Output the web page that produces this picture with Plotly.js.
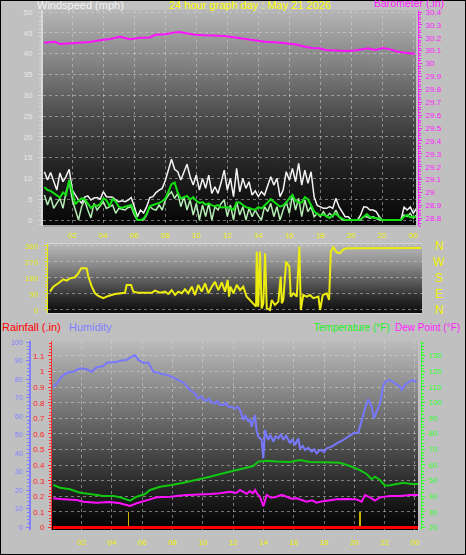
<!DOCTYPE html>
<html><head><meta charset="utf-8">
<script src="https://cdn.plot.ly/plotly-3.0.1.min.js"></script>
<style>html,body{margin:0;padding:0;background:#c0c0c0;overflow:hidden}#chart{width:466px;height:555px}</style>
</head><body><div id="chart"></div>
<script>
// ---------- DATA ----------
const hourTicks = [2,4,6,8,10,12,14,16,18,20,22,24];
const hourTickText = ['02','04','06','08','10','12','14','16','18','20','22','00'];

// Wind (mph), one reading every 0.2 h starting at 0.2 h
const windStepHours = 0.2;
const windGust = [11.6,9.6,11.4,9.2,7.2,11.3,9.2,10.5,12.2,7.2,
6.0,4.8,4.1,5.5,5.8,4.8,5.3,5.4,5.0,6.8,
5.6,5.6,5.5,4.8,4.4,4.6,4.4,4.8,5.4,3.2,
0.8,2.4,1.7,3.2,5.4,5.6,6.6,7.2,7.6,9.5,
12.2,14.6,12.2,11.6,9.6,11.6,13.4,10.4,8.4,10.8,
7.2,10.0,7.6,10.8,6.4,8.0,6.4,9.0,12.0,7.2,
10.0,5.6,12.4,6.8,10.0,7.6,9.2,6.0,7.0,5.6,
6.8,6.0,8.0,10.4,8.4,10.0,5.6,7.2,11.6,9.6,
12.4,9.2,13.6,8.4,12.0,8.8,11.6,5.5,3.5,3.2,
2.8,2.8,3.2,2.8,5.2,3.2,2.0,0.8,0.8,0,
0,0,1.2,3.2,3.1,2.4,2.4,2.0,0.8,0,
0,0,0,0,0,0,3.1,2.4,3.1,1.6,
2.8];
const windSpeed = [6.0,3.6,5.6,2.8,4.0,5.2,2.8,6.8,9.2,4.8,
2.4,0,3.2,4.8,2.4,0.5,4.0,2.4,3.4,4.4,
2.8,3.2,3.6,1.6,2.8,2.6,2.4,3.0,3.2,1.2,
0,0,0,1.2,3.2,2.6,2.4,3.6,2.4,4.8,
6.0,6.8,5.2,6.4,3.2,5.6,2.4,4.8,1.2,4.0,
0,3.6,0.8,4.0,0,3.2,2.4,4.0,4.8,0.8,
3.6,0,4.4,1.2,3.2,0,2.8,0.8,2.4,1.0,
0,3.2,2.0,4.0,0.8,3.2,0,2.4,4.4,1.6,
6.0,2.4,5.2,0.8,4.8,2.0,3.2,0.8,1.6,0.8,
2.0,0.8,1.6,0.8,2.4,0.8,0,0,0,0,
0,0,0,0.8,0.8,0.4,0.8,0.4,0,0,
0,0,0,0,0,0,1.2,0.8,1.6,0.4,
1.2];
const windAvg = [7.9,7.2,7.0,6.4,5.8,5.4,6.6,6.0,9.6,6.5,
3.8,4.6,5.2,5.0,4.0,2.9,3.6,3.4,3.8,5.2,
4.8,3.3,5.1,4.4,3.2,2.9,3.2,3.4,3.6,2.0,
0,0,0.3,1.5,3.3,3.6,3.8,4.1,4.5,5.2,
6.8,8.6,9.0,6.6,5.2,5.6,5.8,4.9,5.5,4.6,
4.1,4.3,3.7,4.0,3.5,3.3,3.6,3.0,3.1,3.1,
2.8,2.5,4.2,4.2,3.6,3.1,2.9,2.6,2.5,3.1,
2.8,3.4,4.2,5.0,4.4,3.7,3.2,3.5,4.2,5.2,
6.0,4.6,4.2,4.2,5.5,5.0,3.4,2.1,1.4,1.2,
1.3,0.9,0.5,1.2,1.5,0.8,0.3,0,0,0,
0,0,0.2,0.7,1.4,0.7,0.5,0.4,0.4,0,
0,0,0,0,0,0,0.8,1.2,0.6,0.8,
0.8];
const windTicks = [0,5,10,15,20,25,30,35,40,45,50];

// Barometer (in)
const baroHours = [0.17,0.88,1.21,1.85,2.5,3.14,3.79,4.43,5.08,5.72,6.37,7.01,7.34,7.98,8.63,8.95,9.27,9.92,10.56,11.21,11.85,12.5,13.14,13.79,14.43,15.08,15.72,16.37,17.01,17.46,17.98,18.3,18.95,19.59,20.24,20.69,21.08,21.53,22.05,22.5,23.01,23.46,24.1];
const baro = [30.162,30.169,30.151,30.157,30.165,30.167,30.18,30.19,30.208,30.188,30.2,30.203,30.224,30.227,30.242,30.245,30.237,30.224,30.219,30.214,30.214,30.203,30.193,30.18,30.169,30.165,30.157,30.149,30.13,30.12,30.118,30.105,30.102,30.097,30.102,30.11,30.118,30.105,30.12,30.11,30.092,30.084,30.076];
const baroTicks = [28.8,28.9,29,29.1,29.2,29.3,29.4,29.5,29.6,29.7,29.8,29.9,30,30.1,30.2,30.3,30.4];
const baroTickText = ['28.8','28.9','29','29.1','29.2','29.3','29.4','29.5','29.6','29.7','29.8','29.9','30','30.1','30.2','30.3','30.4'];

// Wind direction (degrees)
const dirHours = [0.00,0.21,0.54,0.86,1.08,1.29,1.62,1.83,2.01,2.15,2.37,2.48,2.70,2.91,3.12,3.45,3.77,4.20,4.85,4.96,5.24,5.39,5.71,6.58,6.79,7.12,7.44,7.65,7.87,8.09,8.30,8.52,8.73,8.95,9.17,9.38,9.59,9.81,10.03,10.24,10.46,10.67,10.89,11.11,11.32,11.49,11.58,11.67,11.86,12.08,12.29,12.50,12.72,12.94,13.15,13.33,13.37,13.47,13.58,13.69,13.80,13.91,14.02,14.23,14.34,14.55,14.77,14.92,14.99,15.09,15.27,15.35,15.48,15.57,15.74,15.96,16.13,16.22,16.38,16.60,16.82,17.03,17.36,17.47,17.64,17.90,18.05,18.16,18.33,18.55,18.76,18.97,19.19,24.00];
const dirDeg = [103,131,150,172,165,178,184,206,234,236,234,188,131,94,79,66,79,90,97,141,141,103,97,97,109,97,103,90,112,84,103,94,116,94,131,84,141,103,150,94,131,159,112,155,103,169,75,131,94,141,112,131,75,56,38,19,328,19,328,9,38,319,9,0,56,28,47,188,38,56,272,263,244,75,94,75,356,0,84,75,84,66,75,0,84,94,56,328,353,323,319,341,347,348];
const dirTicks = [0,90,180,270,360];
const compassLetters = ['N','E','S','W','N'];

// Humidity (%)
const humHours = [0.02,0.35,0.68,1.01,1.45,1.89,2.33,2.66,2.99,3.43,3.65,4.31,4.64,4.97,5.30,5.52,5.74,6.07,6.40,6.73,7.17,7.50,7.83,8.27,8.71,9.15,9.48,9.6,9.7,9.9,10.05,10.25,10.4,10.55,10.8,10.95,11.1,11.35,11.5,11.7,11.9,12.12,12.3,12.45,12.55,12.67,12.8,13.0,13.1,13.22,13.44,13.55,13.66,13.88,13.99,14.10,14.2,14.32,14.45,14.65,14.8,14.98,15.15,15.31,15.5,15.75,15.9,16.08,16.3,16.41,16.6,16.74,16.95,17.18,17.35,17.51,17.7,17.84,18.0,18.17,18.50,18.83,19.27,19.60,19.93,20.26,20.48,20.70,20.92,21.14,21.29,21.47,21.69,21.91,22.13,22.35,22.68,23.01,23.12,23.34,23.78,24.11];
const humidity = [75.1,77.8,81.4,83.6,84.1,85.9,85.4,84.1,86.5,87.2,89.0,89.4,90.1,90.4,92.2,93.0,90.4,89.0,89.0,84.1,83.2,82.7,81.8,80.0,78.2,74.2,72.4,70.5,69.7,70.8,68.9,68.4,69.5,67.6,67.0,68.2,66.4,66.1,67.2,65.0,65.2,64.3,65.1,63.4,61.0,58.0,60.5,57.1,58.6,54.4,60.7,52.0,49.0,47.2,37.3,52.6,49.5,47.2,50.0,46.3,49.2,48.1,50.4,47.2,49.5,45.4,47.6,44.5,48.1,42.7,43.9,41.8,43.0,40.9,42.2,40.0,41.5,41.8,40.6,42.7,43.6,45.4,47.2,49.0,50.8,51.1,58.0,64.3,69.2,65.2,58.9,62.5,67.0,76.9,79.2,79.6,77.8,76.0,74.2,76.9,79.6,78.7];
const humTicks = [0,10,20,30,40,50,60,70,80,90,100];

// Temperature and dew point (°F)
const tempHours = [0.13,0.57,1.23,1.89,2.55,2.99,3.43,4.09,4.53,5.19,5.63,6.18,6.51,7.17,7.83,8.71,9.59,10.47,11.35,12.23,12.67,13.33,13.66,14.21,14.87,15.75,16.41,17.07,18.17,19.05,19.71,20.37,20.81,21.14,21.36,21.69,22.02,22.35,22.79,23.23,23.78,24.2];
const temperature = [47.1,45.4,44.4,42.2,41.3,40.7,40.1,40.1,39.2,37.1,39.6,41.3,43.9,46.0,46.9,48.6,50.3,52.4,54.6,56.7,57.8,59.3,62.1,62.7,62.1,61.9,63.1,61.9,61.7,61.4,59.3,56.7,54.2,50.8,52.4,50.3,46.7,46.9,47.8,48.6,47.8,47.8];
const dewHours = [0.13,0.79,1.67,2.11,2.99,3.87,4.53,5.19,5.63,6.07,6.51,6.95,7.83,8.71,9.59,10.47,11.13,11.78,12.2,12.45,12.7,12.89,13.1,13.3,13.44,13.6,13.77,13.99,14.21,14.5,14.87,15.2,15.53,15.85,16.19,16.5,16.85,17.2,17.51,17.85,18.17,18.83,19.49,20.15,20.48,20.70,21.03,21.36,21.69,22.35,23.01,23.67,24.2];
const dewPoint = [38.6,37.9,37.5,36.4,35.8,36.2,35.4,33.7,35.4,36.9,37.9,39.2,39.6,40.5,40.7,41.3,41.8,42.8,42.0,43.9,42.6,41.3,43.2,41.8,43.9,41.2,39.6,33.5,40.7,38.9,39.6,40.8,39.6,38.3,38.6,37.4,36.4,37.3,35.8,36.6,37.1,37.9,38.1,37.9,36.4,40.7,39.2,37.1,39.2,40.1,40.1,40.7,40.7];
const tempTicks = [20,30,40,50,60,70,80,90,100,110,120,130];

// Rainfall (in)
const rainHours = [0,2,4,6,8,10,12,14,16,18,20,22,24.2];
const rainfall = [0,0,0,0,0,0,0,0,0,0,0,0,0];
const rainMarkHours = [5.08,20.37];
const rainMarkValues = [0.1,0.1];
const rainTicks = [0,0.1,0.2,0.3,0.4,0.5,0.6,0.7,0.8,0.9,1,1.1,1.2];
const rainTickText = ['0','0.1','0.2','0.3','0.4','0.5','0.6','0.7','0.8','0.9','1','1.1','1.2'];

// ---------- LAYOUT HELPERS ----------
const W = 466, H = 555;
const px = x => x / W, py = y => 1 - y / H;
const FONT = 'Liberation Sans, Arial, sans-serif';
const YEL = '#f0f000';
const GRID = 'rgba(215,215,215,0.5)';

function gradImg(stops) {
  const c = document.createElement('canvas');
  c.width = 4; c.height = 256;
  const g = c.getContext('2d');
  const lg = g.createLinearGradient(0, 0, 0, 256);
  stops.forEach(([t, v]) => lg.addColorStop(t, `rgb(${v},${v},${v})`));
  g.fillStyle = lg; g.fillRect(0, 0, 4, 256);
  return c.toDataURL();
}
function bgImage(x0, y0, x1, y1, stops) {
  return {source: gradImg(stops), xref: 'paper', yref: 'paper', x: px(x0), y: py(y0),
    sizex: (x1 - x0) / W, sizey: (y1 - y0) / H, sizing: 'stretch', xanchor: 'left', yanchor: 'top', layer: 'below'};
}

const windHours = windGust.map((_, i) => +((i + 1) * windStepHours).toFixed(2));

const traces = [
  {x: windHours, y: windGust, xaxis: 'x', yaxis: 'y', mode: 'lines', line: {color: '#f4f4f4', width: 1.5}, name: 'Gust'},
  {x: windHours, y: windSpeed, xaxis: 'x', yaxis: 'y', mode: 'lines', line: {color: '#b4ecb4', width: 1.5}, name: 'Speed'},
  {x: windHours, y: windAvg, xaxis: 'x', yaxis: 'y', mode: 'lines', line: {color: '#10e010', width: 2}, name: 'Average'},
  {x: baroHours, y: baro, xaxis: 'x', yaxis: 'y2', mode: 'lines', line: {color: '#ff10ff', width: 2}, name: 'Barometer'},
  {x: dirHours, y: dirDeg, xaxis: 'x2', yaxis: 'y3', mode: 'lines', line: {color: '#ecec10', width: 2}, name: 'Direction'},
  {x: rainMarkHours, y: rainMarkValues, xaxis: 'x3', yaxis: 'y4', type: 'bar', width: 0.09, marker: {color: '#c8b400', line: {width: 0}}, name: 'Rain rate'},
  {x: rainHours, y: rainfall, xaxis: 'x3', yaxis: 'y4', mode: 'lines', line: {color: '#ff0000', width: 3}, name: 'Rainfall'},
  {x: humHours, y: humidity, xaxis: 'x3', yaxis: 'y5', mode: 'lines', line: {color: '#7878ff', width: 2}, name: 'Humidity'},
  {x: tempHours, y: temperature, xaxis: 'x3', yaxis: 'y6', mode: 'lines', line: {color: '#10c810', width: 2}, name: 'Temperature'},
  {x: dewHours, y: dewPoint, xaxis: 'x3', yaxis: 'y6', mode: 'lines', line: {color: '#ff10ff', width: 2}, name: 'Dew Point'}
];

const tf = (c, s) => ({family: FONT, size: s || 8, color: c});
const xCommon = {tickvals: hourTicks, ticktext: hourTickText, tickfont: tf(YEL), showgrid: true, gridcolor: GRID, griddash: 'dot', gridwidth: 1, zeroline: false, ticks: '', fixedrange: true, ticklabelstandoff: 3};

const layout = {
  width: W, height: H, margin: {l: 0, r: 0, t: 0, b: 0, pad: 0},
  paper_bgcolor: '#c0c0c0', plot_bgcolor: 'rgba(0,0,0,0)', showlegend: false, bargap: 0,
  font: {family: FONT},
  xaxis: Object.assign({}, xCommon, {domain: [px(43), px(416)], range: [0.11, 24.17], anchor: 'y'}),
  yaxis: {domain: [py(226), py(10)], range: [-1.44, 50.48], tickvals: windTicks, tickfont: tf('#e8e8e8'),
    showgrid: true, gridcolor: GRID, griddash: 'dot', zeroline: false, showline: true, linecolor: '#d8d8d8', linewidth: 2,
    ticks: 'outside', ticklen: 3, tickcolor: '#d8d8d8', ticklabelstandoff: 4,
    minor: {tickmode: 'linear', tick0: 0, dtick: 1, ticks: 'outside', ticklen: 2, tickcolor: '#d8d8d8', showgrid: false}},
  yaxis2: {overlaying: 'y', side: 'right', anchor: 'free', position: px(418), range: [28.74, 30.4155],
    tickvals: baroTicks, ticktext: baroTickText, tickfont: tf('#ff20ff'), showgrid: false, zeroline: false,
    showline: true, linecolor: '#ff20ff', linewidth: 1, ticks: 'outside', ticklen: 3, tickcolor: '#ff20ff', ticklabelstandoff: 2,
    minor: {tickmode: 'linear', tick0: 28.8, dtick: 0.02, ticks: 'outside', ticklen: 2, tickcolor: '#ff20ff', showgrid: false}},
  xaxis2: {domain: [px(48), px(422)], range: [-0.13, 24.06], anchor: 'y3', showticklabels: false, showgrid: false,
    zeroline: false, showline: true, mirror: true, linecolor: '#d4d4d4', linewidth: 1, ticks: ''},
  yaxis3: {domain: [py(313), py(244)], range: [-17, 371], anchor: 'x2', tickvals: dirTicks, tickfont: tf('#e8e810'),
    showgrid: true, gridcolor: GRID, griddash: 'dot', zeroline: false, showline: true, linecolor: '#e8e810', linewidth: 1,
    ticks: 'outside', ticklen: 3, tickcolor: '#e8e810', ticklabelstandoff: 4,
    minor: {tickmode: 'linear', tick0: 0, dtick: 18, ticks: 'outside', ticklen: 2, tickcolor: '#e8e810', showgrid: false}},
  xaxis3: Object.assign({}, xCommon, {domain: [px(53), px(418)], range: [0.106, 24.2], anchor: 'y4', ticklabelstandoff: 6}),
  yaxis4: {domain: [py(530), py(341)], range: [-0.016, 1.1955], anchor: 'free', position: px(51),
    tickvals: rainTicks, ticktext: rainTickText, tickfont: tf('#ff2020'), showgrid: true, gridcolor: GRID, griddash: 'dot',
    zeroline: false, showline: true, linecolor: '#ff3030', linewidth: 1, ticks: 'outside', ticklen: 3, tickcolor: '#ff3030', ticklabelstandoff: 2,
    minor: {tickmode: 'linear', tick0: 0, dtick: 0.02, ticks: 'outside', ticklen: 2, tickcolor: '#ff3030', showgrid: false}},
  yaxis5: {overlaying: 'y4', side: 'left', anchor: 'free', position: px(30), range: [-1.46, 100.7],
    tickvals: humTicks, tickfont: tf('#8080ff', 7), showgrid: false, zeroline: false, showline: true, linecolor: '#8080ff', linewidth: 2,
    ticks: 'outside', ticklen: 3, tickcolor: '#8080ff', ticklabelstandoff: 2,
    minor: {tickmode: 'linear', tick0: 0, dtick: 2, ticks: 'outside', ticklen: 2, tickcolor: '#8080ff', showgrid: false}},
  yaxis6: {overlaying: 'y4', side: 'right', anchor: 'free', position: px(421), range: [18.27, 139.4],
    tickvals: tempTicks, tickfont: tf('#30ff30'), showgrid: false, zeroline: false, showline: true, linecolor: '#30ff30', linewidth: 1,
    ticks: 'outside', ticklen: 3, tickcolor: '#30ff30', ticklabelstandoff: 2,
    minor: {tickmode: 'linear', tick0: 20, dtick: 2, ticks: 'outside', ticklen: 2, tickcolor: '#30ff30', showgrid: false}},
  images: [
    bgImage(43, 10, 416, 226, [[0, 182], [0.25, 130], [0.5, 74], [0.75, 32], [1, 6]]),
    bgImage(48, 244, 422, 313, [[0, 184], [0.3, 140], [0.55, 90], [0.8, 40], [1, 12]]),
    bgImage(51, 341, 418, 530, [[0, 188], [0.3, 130], [0.55, 80], [0.8, 34], [1, 0]])
  ],
  shapes: [
    {type: 'rect', xref: 'paper', yref: 'paper', x0: 0, x1: 1, y0: 0, y1: 1, line: {color: '#000', width: 2}, fillcolor: 'rgba(0,0,0,0)'},
    {type: 'line', xref: 'paper', yref: 'paper', x0: px(43), x1: px(416), y0: py(226), y1: py(226), line: {color: '#a8a8a8', width: 2}}
  ],
  annotations: [
    {text: 'Windspeed (mph)', xref: 'paper', yref: 'paper', x: px(35), y: py(4.5), xanchor: 'left', yanchor: 'middle', showarrow: false, font: tf('#f4f4f4', 11)},
    {text: '24 hour graph day : May 21 2026', xref: 'paper', yref: 'paper', x: px(250), y: py(4.5), xanchor: 'center', yanchor: 'middle', showarrow: false, font: tf('#ffff00', 11)},
    {text: 'Barometer (.in)', xref: 'paper', yref: 'paper', x: px(372), y: py(3), xanchor: 'left', yanchor: 'middle', showarrow: false, font: tf('#ff20ff', 10.5)},
    {text: 'Rainfall (.in)', xref: 'paper', yref: 'paper', x: px(0), y: py(327), xanchor: 'left', yanchor: 'middle', showarrow: false, font: tf('#ff0000', 11)},
    {text: 'Humidity', xref: 'paper', yref: 'paper', x: px(67), y: py(327), xanchor: 'left', yanchor: 'middle', showarrow: false, font: tf('#8080ff', 11)},
    {text: 'Temperature (°F)', xref: 'paper', yref: 'paper', x: px(312), y: py(327), xanchor: 'left', yanchor: 'middle', showarrow: false, font: tf('#20f020', 10)},
    {text: 'Dew Point (°F)', xref: 'paper', yref: 'paper', x: px(393), y: py(327), xanchor: 'left', yanchor: 'middle', showarrow: false, font: tf('#ff20ff', 10)}
  ]
};
// compass letters beside the direction axis, aligned with its ticks
compassLetters.forEach((t, i) => {
  layout.annotations.push({text: t, xref: 'paper', yref: 'y3', x: px(439), y: dirTicks[i], xanchor: 'center', yanchor: 'middle', showarrow: false, font: tf('#f0f000', 12)});
});

Plotly.newPlot('chart', traces, layout, {staticPlot: true, displayModeBar: false});
</script>
</body></html>
